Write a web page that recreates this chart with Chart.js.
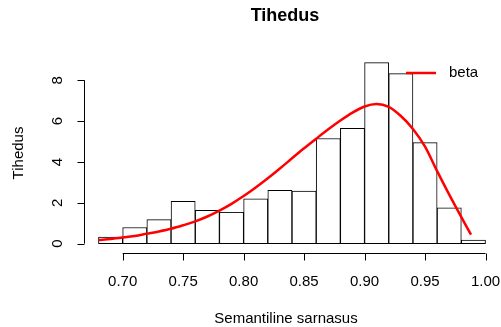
<!DOCTYPE html>
<html>
<head>
<meta charset="utf-8">
<script src="https://cdn.jsdelivr.net/npm/chart.js@4"></script>
<style>
  body { margin:0; background:#fff; }
  #wrap { width:501px; height:327px; }
</style>
</head>
<body>
<div id="wrap"><canvas id="chart" width="501" height="327"></canvas></div>
<script>
// ----- andmed -----
const binCenters = [0.69,0.71,0.73,0.75,0.77,0.79,0.81,0.83,0.85,0.87,0.89,0.91,0.93,0.95,0.97,0.99];
const binDensity = [0.32,0.79,1.18,2.07,1.63,1.54,2.19,2.61,2.58,5.15,5.65,8.87,8.33,4.95,1.75,0.17];

const curveX = [0.68,0.69,0.70,0.71,0.72,0.73,0.74,0.75,0.76,0.77,0.78,0.79,0.80,0.81,0.82,0.83,0.84,0.85,0.86,0.87,0.88,0.89,0.90,0.91,0.92,0.93,0.94,0.95,0.96,0.97,0.98,0.988];
const curveY = [0.18,0.23,0.30,0.38,0.49,0.60,0.73,0.90,1.09,1.33,1.62,1.95,2.33,2.75,3.20,3.68,4.18,4.67,5.14,5.60,6.03,6.42,6.72,6.84,6.70,6.25,5.62,4.75,3.55,2.40,1.30,0.44];

const xTicks = [0.70,0.75,0.80,0.85,0.90,0.95,1.00];
const xTickLabels = ["0.70","0.75","0.80","0.85","0.90","0.95","1.00"];
const yTicks = [0,2,4,6,8];
const yTickLabels = ["0","2","4","6","8"];

const titleText = "Tihedus";
const xTitle = "Semantiline sarnasus";
const yTitle = "Tihedus";
const legendLabel = "beta";

const FONT = "Liberation Sans, Arial, Helvetica, sans-serif";

// ----- R-stiilis teljed, pealkirjad ja legend -----
const rAxes = {
  id:"rAxes",
  afterDraw(chart){
    const ctx = chart.ctx;
    const xs = chart.scales.x, ys = chart.scales.y;
    ctx.save();
    ctx.strokeStyle = "#000";
    ctx.fillStyle = "#000";
    ctx.lineWidth = 1;

    // x telg
    const axY = 253.5;
    ctx.beginPath();
    ctx.moveTo(xs.getPixelForValue(xTicks[0]), axY);
    ctx.lineTo(xs.getPixelForValue(xTicks[xTicks.length-1]), axY);
    xTicks.forEach(v=>{
      const p = Math.round(xs.getPixelForValue(v))+0.5;
      ctx.moveTo(p, axY); ctx.lineTo(p, axY+7);
    });
    ctx.stroke();
    ctx.font = "15px " + FONT;
    ctx.textAlign = "center";
    ctx.textBaseline = "middle";
    xTicks.forEach((v,i)=>{
      ctx.fillText(xTickLabels[i], xs.getPixelForValue(v), 282);
    });

    // y telg
    const axX = 84.5;
    ctx.beginPath();
    ctx.moveTo(axX, ys.getPixelForValue(yTicks[0]));
    ctx.lineTo(axX, ys.getPixelForValue(yTicks[yTicks.length-1]));
    yTicks.forEach(v=>{
      const p = Math.round(ys.getPixelForValue(v))+0.5;
      ctx.moveTo(axX, p); ctx.lineTo(axX-7, p);
    });
    ctx.stroke();
    yTicks.forEach((v,i)=>{
      ctx.save();
      ctx.translate(58, ys.getPixelForValue(v));
      ctx.rotate(-Math.PI/2);
      ctx.fillText(yTickLabels[i], 0, 0);
      ctx.restore();
    });

    // pealkirjad
    ctx.fillText(xTitle, 286, 319);
    ctx.save();
    ctx.translate(19, 153);
    ctx.rotate(-Math.PI/2);
    ctx.fillText(yTitle, 0, 0);
    ctx.restore();
    ctx.font = "bold 18px " + FONT;
    ctx.fillText(titleText, 285, 16);

    // legend
    ctx.strokeStyle = "#ff0000";
    ctx.lineWidth = 2.5;
    ctx.beginPath();
    ctx.moveTo(406, 73); ctx.lineTo(436, 73);
    ctx.stroke();
    ctx.font = "15px " + FONT;
    ctx.textAlign = "left";
    ctx.fillText(legendLabel, 449, 73);
    ctx.restore();
  }
};

const chart = new Chart(document.getElementById("chart"),{
  data:{
    datasets:[
      {
        type:"line",
        data: curveX.map((x,i)=>({x:x, y:curveY[i]})),
        borderColor:"#ff0000",
        borderWidth:2.5,
        pointRadius:0,
        cubicInterpolationMode:"monotone",
        order:0
      },
      {
        type:"bar",
        data: binCenters.map((x,i)=>({x:x, y:binDensity[i]})),
        backgroundColor:"#ffffff",
        borderColor:"#000000",
        borderWidth:1,
        borderSkipped:false,
        barPercentage:1,
        categoryPercentage:1,
        order:1
      }
    ]
  },
  options:{
    responsive:false,
    animation:false,
    layout:{ padding:{ left:83, right:0, top:55, bottom:76 } },
    plugins:{ legend:{display:false}, tooltip:{enabled:false}, title:{display:false} },
    scales:{
      x:{ type:"linear", display:false, offset:false, min:0.6672, max:1.0128,
          afterBuildTicks:s=>{ s.ticks = xTicks.map(v=>({value:v})); } },
      y:{ type:"linear", display:false, min:-0.36, max:9.24 }
    }
  },
  plugins:[rAxes]
});
</script>
</body>
</html>
